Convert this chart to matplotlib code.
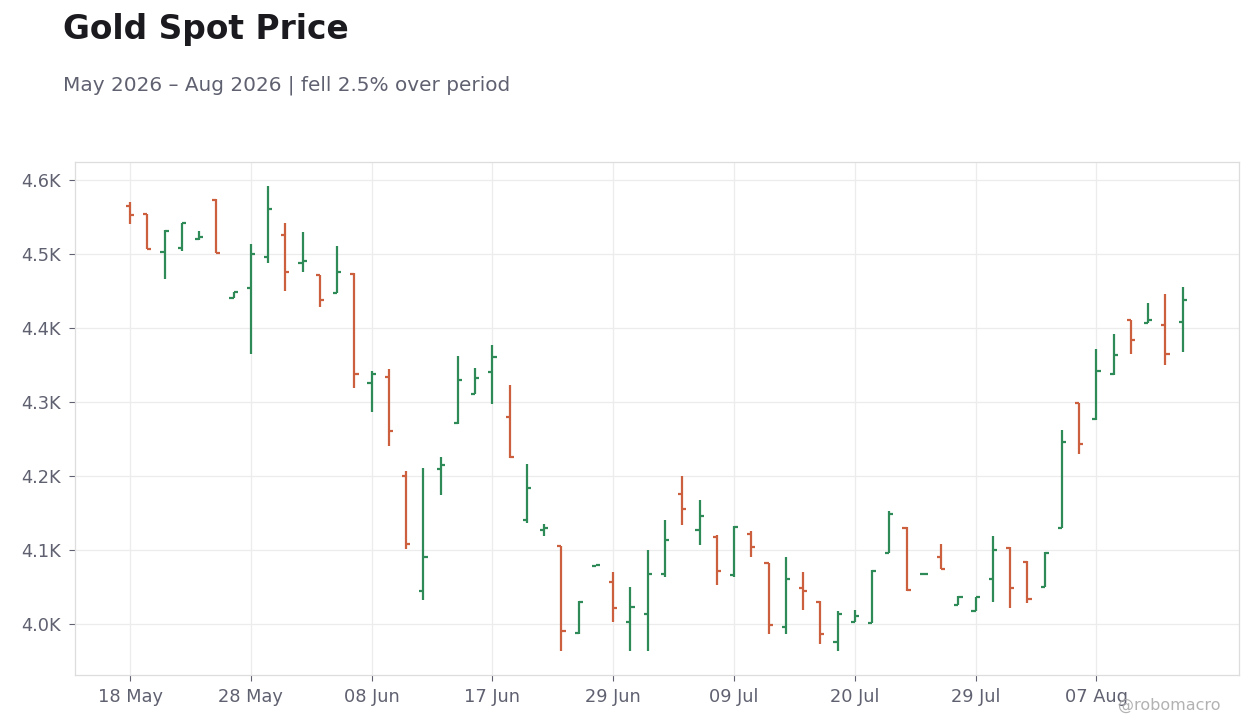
import numpy as np
import pandas as pd
import matplotlib
matplotlib.use("Agg")
import matplotlib.pyplot as plt
from matplotlib.ticker import FuncFormatter

# ---- data ----
start_date = "2026-05-18"
end_date = "2026-08-14"
holidays = ["2026-05-25", "2026-06-19", "2026-07-03"]

opens = [4564, 4554, 4503, 4508, 4520, 4573, 4440, 4454, 4495, 4525,
         4488, 4472, 4447, 4473, 4325, 4333, 4200, 4044, 4209, 4272,
         4310, 4340, 4280, 4140, 4127, 4105, 3988, 4078, 4057, 4003,
         4014, 4068, 4176, 4127, 4117, 4066, 4122, 4082, 3996, 4049,
         4030, 3976, 4003, 4001, 4096, 4130, 4068, 4091, 4026, 4018,
         4061, 4103, 4084, 4050, 4130, 4298, 4277, 4337, 4410, 4407,
         4404, 4408]
highs = [4570, 4554, 4532, 4542, 4531, 4574, 4448, 4513, 4592, 4542,
         4530, 4472, 4511, 4474, 4341, 4345, 4207, 4210, 4226, 4362,
         4346, 4377, 4323, 4216, 4135, 4105, 4031, 4079, 4070, 4050,
         4100, 4141, 4200, 4168, 4120, 4132, 4126, 4082, 4091, 4070,
         4031, 4018, 4019, 4073, 4153, 4131, 4068, 4108, 4038, 4036,
         4119, 4104, 4085, 4097, 4262, 4299, 4372, 4391, 4410, 4434,
         4446, 4455]
lows = [4540, 4506, 4466, 4504, 4519, 4501, 4440, 4364, 4488, 4450,
        4475, 4428, 4447, 4319, 4286, 4241, 4101, 4032, 4174, 4270,
        4310, 4297, 4224, 4136, 4119, 3964, 3987, 4078, 4003, 3963,
        3963, 4063, 4134, 4107, 4053, 4064, 4091, 3986, 3987, 4019,
        3973, 3964, 4002, 4001, 4096, 4045, 4068, 4074, 4025, 4017,
        4029, 4022, 4028, 4050, 4129, 4229, 4275, 4336, 4365, 4406,
        4350, 4367]
closes = [4553, 4507, 4531, 4541, 4522, 4501, 4448, 4500, 4561, 4476,
          4490, 4437, 4476, 4338, 4337, 4260, 4108, 4091, 4215, 4329,
          4332, 4360, 4225, 4183, 4130, 3991, 4030, 4079, 4022, 4023,
          4068, 4113, 4155, 4146, 4071, 4131, 4104, 3998, 4061, 4044,
          3986, 4013, 4011, 4072, 4148, 4046, 4068, 4074, 4037, 4036,
          4100, 4049, 4034, 4096, 4246, 4243, 4341, 4363, 4384, 4410,
          4364, 4438]

title = "Gold Spot Price"
subtitle = "May 2026 \u2013 Aug 2026 | fell 2.5% over period"
watermark = "@robomacro"

# ---- styling ----
UP = "#2e8b57"
DOWN = "#cc5f3e"
TXT = "#5f6170"
plt.rcParams["font.family"] = ["DejaVu Sans"]

dates = pd.bdate_range(start_date, end_date, freq="C", holidays=holidays)
o = np.array(opens, float); h = np.array(highs, float)
l = np.array(lows, float); c = np.array(closes, float)
x = np.arange(len(o))
colors = [UP if cc >= oo else DOWN for oo, cc in zip(o, c)]

fig = plt.figure(figsize=(12.6, 7.28), dpi=100, facecolor="white")
ax = fig.add_axes([0.0595, 0.0728, 0.9238, 0.7047])
ax.set_facecolor("white")

tick = 0.24
lw = 1.6
ax.vlines(x, l, h, colors=colors, linewidth=lw, zorder=3)
ax.hlines(o, x - tick, x, colors=colors, linewidth=lw, zorder=3)
ax.hlines(c, x, x + tick, colors=colors, linewidth=lw, zorder=3)

ax.set_xlim(-3.19, 64.26)
ax.set_ylim(3931, 4624)

ax.set_yticks([4000, 4100, 4200, 4300, 4400, 4500, 4600])
ax.yaxis.set_major_formatter(FuncFormatter(lambda v, p: f"{v/1000:.1f}K"))
xt = list(range(0, len(x), 7))
ax.set_xticks(xt)
ax.set_xticklabels([dates[i].strftime("%d %b") for i in xt])

ax.grid(True, color="#ececec", linewidth=0.9, zorder=0)
ax.set_axisbelow(True)
for s in ax.spines.values():
    s.set_color("#dddddd")
    s.set_linewidth(0.9)
ax.tick_params(axis="both", colors="#5f6170", labelcolor=TXT, labelsize=12.8,
               length=4, width=0.8)
ax.tick_params(axis="x", pad=5)
ax.tick_params(axis="y", pad=6)

fig.text(0.05, 0.960, title, fontsize=23.7, fontweight="bold", color="#1a1a1f",
         ha="left", va="center")
fig.text(0.05, 0.883, subtitle, fontsize=14.4, color=TXT, ha="left", va="center")
fig.text(0.969, 0.031, watermark, fontsize=11.5, color="#aaaaaa", ha="right",
         va="center", alpha=0.9)

fig.savefig("out.png", dpi=100, facecolor="white")
